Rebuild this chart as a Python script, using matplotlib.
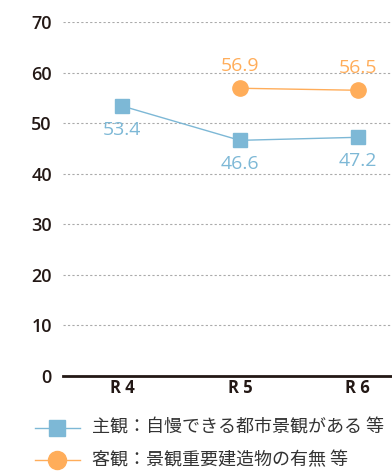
import matplotlib as mpl
mpl.use('agg')
import matplotlib.pyplot as plt

years = ['R 4', 'R 5', 'R 6']
subjective = [53.4, 46.6, 47.2]
objective = [None, 56.9, 56.5]
subj_label = '主観：自慢できる都市景観がある 等'
obj_label = '客観：景観重要建造物の有無 等'

blue = '#7db8d6'
orange = '#ffad5a'
text_dark = '#231815'

plt.rcParams['font.family'] = ['Open Sans', 'DejaVu Sans']

fig = plt.figure(figsize=(3.92, 4.71), dpi=100)
ax = fig.add_axes([63 / 392, 1 - 376 / 471, 1 - 63 / 392, 354 / 471])

x = list(range(len(years)))
ax.plot(x, subjective, color=blue, lw=1.0, marker='s', ms=10, mec=blue,
        mfc=blue, zorder=3)
ox = [i for i, v in zip(x, objective) if v is not None]
oy = [v for v in objective if v is not None]
ax.plot(ox, oy, color=orange, lw=1.0, marker='o', ms=11, mec=orange,
        mfc=orange, zorder=3)

for i, v in zip(x, subjective):
    ax.annotate(f'{v:.1f}', (i, v), xytext=(0, -17), textcoords='offset points',
                ha='center', va='center', color=blue, fontsize=14,
                fontweight='medium')
for i, v in zip(ox, oy):
    ax.annotate(f'{v:.1f}', (i, v), xytext=(0, 16), textcoords='offset points',
                ha='center', va='center', color=orange, fontsize=14,
                fontweight='medium')

ax.set_xlim(-0.5, 2.29)
ax.set_ylim(0, 70)
ax.set_yticks(range(0, 71, 10))
ax.set_xticks(x)
ax.set_xticklabels(years, fontsize=12, fontweight='bold', color=text_dark)
ax.tick_params(axis='y', length=0, pad=8, labelsize=13, labelcolor=text_dark)
ax.tick_params(axis='x', length=0, pad=2)
for t in ax.get_yticklabels():
    t.set_fontweight('semibold')
ax.grid(axis='y', color='#aaaaaa', ls=(0, (2, 2)), lw=0.8)
for s in ['top', 'right', 'left']:
    ax.spines[s].set_visible(False)
ax.spines['bottom'].set_color(text_dark)
ax.spines['bottom'].set_linewidth(2.0)
ax.spines['bottom'].set_zorder(4)

# legend rows under the axis
for row, (col, mk, ms, lab) in enumerate([(blue, 's', 11, subj_label),
                                           (orange, 'o', 13, obj_label)]):
    yy = 1 - (428 + row * 32) / 471
    fig.add_artist(plt.Line2D([35 / 392, 80 / 392], [yy, yy], color=col, lw=1.0,
                              transform=fig.transFigure))
    fig.add_artist(plt.Line2D([57 / 392], [yy], color=col, marker=mk, ms=ms,
                              mec=col, mfc=col, transform=fig.transFigure))
    fig.text(92 / 392, yy, lab, fontsize=13, color='#333333', va='center',
             family=['Noto Sans CJK JP', 'DejaVu Sans'])

fig.savefig('out.png', dpi=100)
